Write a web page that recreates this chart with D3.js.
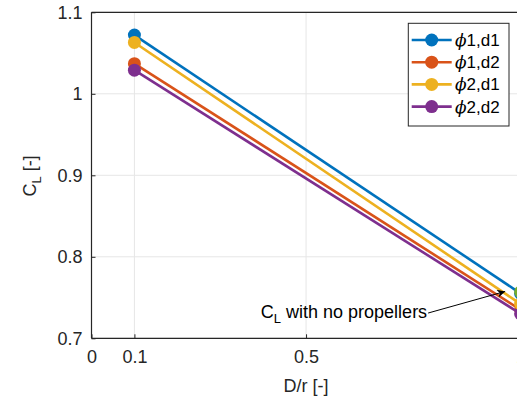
<!DOCTYPE html>
<html><head><meta charset="utf-8">
<script src="https://cdn.jsdelivr.net/npm/d3@7"></script>
<style>
html,body{margin:0;padding:0;background:#fff;overflow:hidden}
text{font-family:"Liberation Sans",Arial,sans-serif;fill:#262626}
</style></head><body>
<svg id="c" width="517" height="408"></svg>
<script>
const xValues = [0.1, 1];
const seriesNames = ["\u03D51,d1", "\u03D51,d2", "\u03D52,d1", "\u03D52,d2"];
const seriesLabelsPhi = ["1,d1", "1,d2", "2,d1", "2,d2"];
const seriesValues = [
  [1.072, 0.755],
  [1.037, 0.735],
  [1.063, 0.742],
  [1.029, 0.730]
];
const seriesColors = ["#0072BD", "#D95319", "#EDB120", "#7E2F8E"];
const noPropX = [1];
const noPropY = [0.757];
const xTicks = [0, 0.1, 0.5, 1];
const xTickLabels = ["0", "0.1", "0.5", "1"];
const yTicks = [0.7, 0.8, 0.9, 1.0, 1.1];
const yTickLabels = ["0.7", "0.8", "0.9", "1", "1.1"];

const svg = d3.select("#c");
const L = 91.5, T = 12.3, B = 338.3;
const x = d3.scaleLinear().domain([0, 1]).range([L, 520.6]);
const y = d3.scaleLinear().domain([0.7, 1.1]).range([B, T]);
const R = x(1.08);

// grid
const g = svg.append("g");
g.selectAll(".gx").data(xTicks).enter().append("line")
  .attr("x1", d => x(d)).attr("x2", d => x(d)).attr("y1", T).attr("y2", B)
  .attr("stroke", "#e6e6e6").attr("stroke-width", 1);
g.selectAll(".gy").data(yTicks).enter().append("line")
  .attr("x1", L).attr("x2", R).attr("y1", d => y(d)).attr("y2", d => y(d))
  .attr("stroke", "#e6e6e6").attr("stroke-width", 1);

// axes
const xAxis = d3.axisBottom(x).tickValues(xTicks).tickFormat((d, i) => xTickLabels[i]).tickSizeInner(-4).tickSizeOuter(0).tickPadding(12);
const yAxis = d3.axisLeft(y).tickValues(yTicks).tickFormat((d, i) => yTickLabels[i]).tickSizeInner(-4).tickSizeOuter(0).tickPadding(9);
const xa = svg.append("g").attr("transform", `translate(0,${B})`).call(xAxis);
const ya = svg.append("g").attr("transform", `translate(${L},0)`).call(yAxis);
[xa, ya].forEach(a => {
  a.select(".domain").attr("stroke", "#262626").attr("stroke-width", 1.2);
  a.selectAll(".tick line").attr("stroke", "#262626");
  a.selectAll(".tick text").attr("font-size", 18).attr("fill", "#262626").style("font-family", '"Liberation Sans",Arial,sans-serif');
});
xa.select(".domain").attr("d", `M${L},0H${R}`);
svg.append("line").attr("x1", L).attr("x2", R).attr("y1", T).attr("y2", T).attr("stroke", "#262626").attr("stroke-width", 1.2);
ya.select(".domain").attr("d", `M0,${B}V${T}`);

// series
const line = d3.line().x((d, i) => x(xValues[i])).y(d => y(d));
seriesValues.forEach((vals, s) => {
  svg.append("path").datum(vals).attr("d", line).attr("fill", "none")
    .attr("stroke", seriesColors[s]).attr("stroke-width", 2.6);
  svg.selectAll(null).data(vals).enter().append("circle")
    .attr("cx", (d, i) => x(xValues[i])).attr("cy", d => y(d)).attr("r", 6.5)
    .attr("fill", seriesColors[s]);
});
svg.selectAll(null).data(noPropY).enter().append("circle")
  .attr("cx", (d, i) => x(noPropX[i])).attr("cy", d => y(d)).attr("r", 6.5).attr("fill", "#77AC30");

// annotation
const defs = svg.append("defs");
defs.append("marker").attr("id", "ah").attr("viewBox", "0 0 10 10").attr("refX", 10).attr("refY", 5)
  .attr("markerWidth", 11).attr("markerHeight", 8).attr("markerUnits", "userSpaceOnUse").attr("orient", "auto")
  .append("path").attr("d", "M0,0L10,5L0,10L3,5Z").attr("fill", "#000");
const ax0 = x(0.7845), ay0 = y(0.731), ax1 = x(0.964), ay1 = y(0.7575);
svg.append("line").attr("x1", ax0).attr("y1", ay0).attr("x2", ax1).attr("y2", ay1)
  .attr("stroke", "#000").attr("stroke-width", 1).attr("marker-end", "url(#ah)");
const at = svg.append("text").attr("x", ax0 - 1).attr("y", ay0 + 5).attr("text-anchor", "end").attr("font-size", 18).style("fill", "#000");
at.append("tspan").text("C");
at.append("tspan").attr("font-size", 13).attr("dy", 5).text("L");
at.append("tspan").attr("dy", -5).text(" with no propellers");

// axis labels
svg.append("text").attr("x", x(0.5)).attr("y", 392).attr("text-anchor", "middle").attr("font-size", 18).text("D/r [-]");
const yl = svg.append("text").attr("transform", "translate(36,176) rotate(-90)").attr("text-anchor", "middle").attr("font-size", 18);
yl.append("tspan").text("C");
yl.append("tspan").attr("font-size", 13).attr("dy", 5).text("L");
yl.append("tspan").attr("dy", -5).text(" [-]");

// legend
const lg = svg.append("g");
lg.append("rect").attr("x", 408.3).attr("y", 23.3).attr("width", 100.7).attr("height", 102.7)
  .attr("fill", "#fff").attr("stroke", "#262626").attr("stroke-width", 1);
seriesNames.forEach((n, i) => {
  const yy = 40 + i * 22.2;
  lg.append("line").attr("x1", 411.7).attr("x2", 451.7).attr("y1", yy).attr("y2", yy)
    .attr("stroke", seriesColors[i]).attr("stroke-width", 2.6);
  lg.append("circle").attr("cx", 431.7).attr("cy", yy).attr("r", 6.5).attr("fill", seriesColors[i]);
  const t = lg.append("text").attr("x", 455).attr("y", yy + 6).attr("font-size", 17).style("fill", "#000");
  t.append("tspan").attr("font-style", "italic").style("font-family", '"DejaVu Serif",serif').text("\u03D5");
  t.append("tspan").text(seriesLabelsPhi[i]);
});
</script>
</body></html>
